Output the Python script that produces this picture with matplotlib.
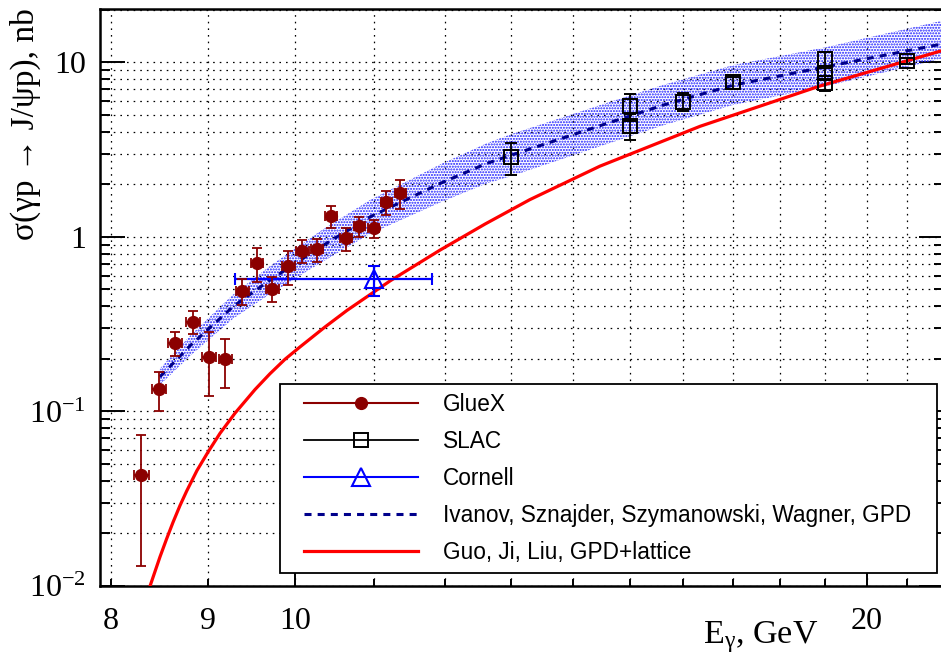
import numpy as np
import matplotlib
matplotlib.use('Agg')
import matplotlib.pyplot as plt
from matplotlib.lines import Line2D
from matplotlib.legend_handler import HandlerLine2D
from matplotlib.ticker import FixedLocator, FixedFormatter, NullFormatter

plt.rcParams['mathtext.fontset'] = 'custom'
plt.rcParams['mathtext.rm'] = 'Liberation Serif'
plt.rcParams['mathtext.it'] = 'Liberation Serif:italic'
plt.rcParams['hatch.linewidth'] = 1.0

SERIF = ['Liberation Serif', 'DejaVu Serif']
SANS = ['Liberation Sans', 'DejaVu Sans']

# GlueX
gx_E = [8.30, 8.48, 8.65, 8.84, 9.01, 9.19, 9.38, 9.55, 9.73, 9.92,
        10.09, 10.27, 10.45, 10.64, 10.81, 11.00, 11.17, 11.36]
gx_sig = [0.043, 0.135, 0.247, 0.326, 0.205, 0.199, 0.488, 0.71, 0.506, 0.682,
          0.831, 0.847, 1.319, 0.979, 1.152, 1.117, 1.587, 1.787]
gx_err = [0.030, 0.034, 0.040, 0.050, 0.082, 0.062, 0.083, 0.155, 0.080, 0.150,
          0.125, 0.130, 0.190, 0.150, 0.150, 0.130, 0.250, 0.340]
gx_Eerr = 0.075

# SLAC
slac_E = [13.0, 15.0, 15.0, 16.0, 17.0, 19.0, 19.0, 19.0, 21.0]
slac_sig = [2.87, 5.61, 4.31, 5.94, 7.67, 10.5, 8.64, 7.63, 10.2]
slac_err = [0.60, 1.00, 0.73, 0.70, 0.60, 1.00, 0.60, 0.75, 0.40]

# Cornell
cor_E = [11.0]
cor_sig = [0.572]
cor_err = [0.113]
cor_Elo = [1.7]
cor_Ehi = [0.8]

# Ivanov, Sznajder, Szymanowski, Wagner (central value and band)
isw_E = [8.49, 8.81, 9.28, 9.70, 10.31, 10.95, 11.92, 12.61, 13.0, 14.47, 15.63, 17.01, 19.03, 21.96]
isw_sig = [0.158, 0.239, 0.40, 0.565, 0.873, 1.30, 2.02, 2.63, 2.94, 4.33, 5.69, 7.40, 9.43, 12.8]
isw_lo = [0.142, 0.209, 0.341, 0.47, 0.707, 1.04, 1.572, 2.02, 2.23, 3.30, 4.36, 5.70, 7.29, 10.57]
isw_hi = [0.176, 0.273, 0.469, 0.68, 1.078, 1.625, 2.596, 3.43, 3.88, 5.68, 7.43, 9.64, 12.2, 17.4]

# Guo, Ji, Liu
gjl_E = [8.389, 8.491, 8.56, 8.626, 8.699, 8.77, 8.88, 9.00, 9.131, 9.299, 9.527, 9.701, 9.88,
         10.06, 10.37, 10.65, 11.22, 11.92, 12.59, 13.29, 14.47, 16.34, 18.89, 21.96]
gjl_sig = [0.0100, 0.01472, 0.01869, 0.0232, 0.02892, 0.03503, 0.0459, 0.0586, 0.0749, 0.0978,
           0.1335, 0.1644, 0.1991, 0.234, 0.3046, 0.379, 0.559, 0.839, 1.184, 1.632, 2.54,
           4.30, 7.31, 11.75]

fig = plt.figure(figsize=(9.41, 6.54), dpi=100)
W, H = 941.0, 654.0
ax = fig.add_axes([100 / W, 1 - 586 / H, (944 - 100) / W, (586 - 9) / H])
ax.set_xscale('log')
ax.set_yscale('log')
ax.set_xlim(7.895, 21.96)
ax.set_ylim(0.01, 20.2)

# grid
ax.xaxis.set_major_locator(FixedLocator([10, 20]))
xminor = [8, 9, 11, 12, 13, 14, 15, 16, 17, 18, 19, 21]
ax.xaxis.set_minor_locator(FixedLocator(xminor))
ax.xaxis.set_major_formatter(FixedFormatter(['10', '20']))
ax.xaxis.set_minor_formatter(FixedFormatter(['8', '9'] + [''] * 10))
ax.yaxis.set_major_locator(FixedLocator([0.01, 0.1, 1, 10]))
ymin = [m * d for d in (0.01, 0.1, 1, 10) for m in range(2, 10)]
ax.yaxis.set_minor_locator(FixedLocator(ymin))
ax.yaxis.set_major_formatter(FixedFormatter(['$10^{-2}$', '$10^{-1}$', '1', '10']))
ax.yaxis.set_minor_formatter(NullFormatter())
ax.grid(which='both', color='black', linestyle=(0, (1.3, 4)), linewidth=0.9)
ax.set_axisbelow(True)

for s in ('left', 'bottom', 'top'):
    ax.spines[s].set_linewidth(1.8)
ax.spines['right'].set_visible(False)

ax.tick_params(which='both', direction='in', width=1.4, right=True, top=False)
ax.tick_params(axis='y', which='major', length=18, pad=10)
ax.tick_params(axis='y', which='minor', length=7)
ax.tick_params(axis='x', which='major', length=11, pad=15)
ax.tick_params(axis='x', which='minor', length=5, pad=15)
for lab in ax.get_xticklabels(which='both') + ax.get_yticklabels(which='both'):
    lab.set_family(SERIF)
    lab.set_fontsize(23)

# theory
ax.fill_between(isw_E, isw_lo, isw_hi, facecolor='none', edgecolor='#1a1aff',
                hatch='......', linewidth=0, zorder=2)
ax.plot(isw_E, isw_sig, color='#00008b', linewidth=2.2, linestyle=(0, (2.3, 2.0)), zorder=3)
ax.plot(gjl_E, gjl_sig, color='#ff0000', linewidth=2.3, zorder=3)

# data
ax.errorbar(slac_E, slac_sig, yerr=slac_err, fmt='s', color='black', mfc='none',
            mec='black', ms=9.5, mew=1.4, elinewidth=1.3, capsize=4, capthick=1.3, zorder=4)
ax.errorbar(cor_E, cor_sig, yerr=cor_err, xerr=[cor_Elo, cor_Ehi], fmt='^', color='#0000ff',
            mfc='none', mec='#0000ff', ms=12.5, mew=1.5, elinewidth=1.6, capsize=4,
            capthick=1.6, zorder=4)
ax.errorbar(gx_E, gx_sig, yerr=gx_err, xerr=gx_Eerr, fmt='o', color='#8b0000',
            mfc='#8b0000', mec='#8b0000', ms=8.5, elinewidth=1.3, capsize=3.5,
            capthick=1.3, zorder=5)

fig.text(25 / W, 1 - 8 / H, 'σ(γp → J/ψp), nb', rotation=90, ha='center', va='top',
         fontsize=24, family=SERIF)
fig.text(703 / W, 1 - 643 / H, r'E$_{\mathrm{γ}}$, GeV', ha='left', va='baseline',
         fontsize=24.5, family=SERIF)

handles = [
    Line2D([], [], color='#8b0000', lw=1.5, marker='o', ms=8.5, mfc='#8b0000', mec='#8b0000'),
    Line2D([], [], color='black', lw=1.3, marker='s', ms=9.5, mfc='none', mec='black', mew=1.4),
    Line2D([], [], color='#0000ff', lw=1.5, marker='^', ms=12.5, mfc='none', mec='#0000ff', mew=1.5),
    Line2D([], [], color='#00008b', lw=2.2, linestyle=(0, (2.3, 2.0))),
    Line2D([], [], color='#ff0000', lw=2.3),
]
labels = ['GlueX', 'SLAC', 'Cornell', 'Ivanov, Sznajder, Szymanowski, Wagner, GPD',
          'Guo, Ji, Liu, GPD+lattice']
leg = ax.legend(handles, labels, loc='upper left',
                bbox_to_anchor=(280 / W, 1 - 571 / H, 657 / W, 187 / H),
                bbox_transform=fig.transFigure, mode='expand', borderaxespad=0,
                prop={'family': SANS, 'size': 16.3}, handlelength=5.7, handletextpad=1.1,
                labelspacing=0.62, borderpad=0.40, fancybox=False, framealpha=1,
                edgecolor='black', numpoints=1,
                handler_map={Line2D: HandlerLine2D(xpad=0.68)})
leg.get_frame().set_linewidth(1.3)
leg.set_zorder(10)

fig.savefig('out.png', dpi=100)
